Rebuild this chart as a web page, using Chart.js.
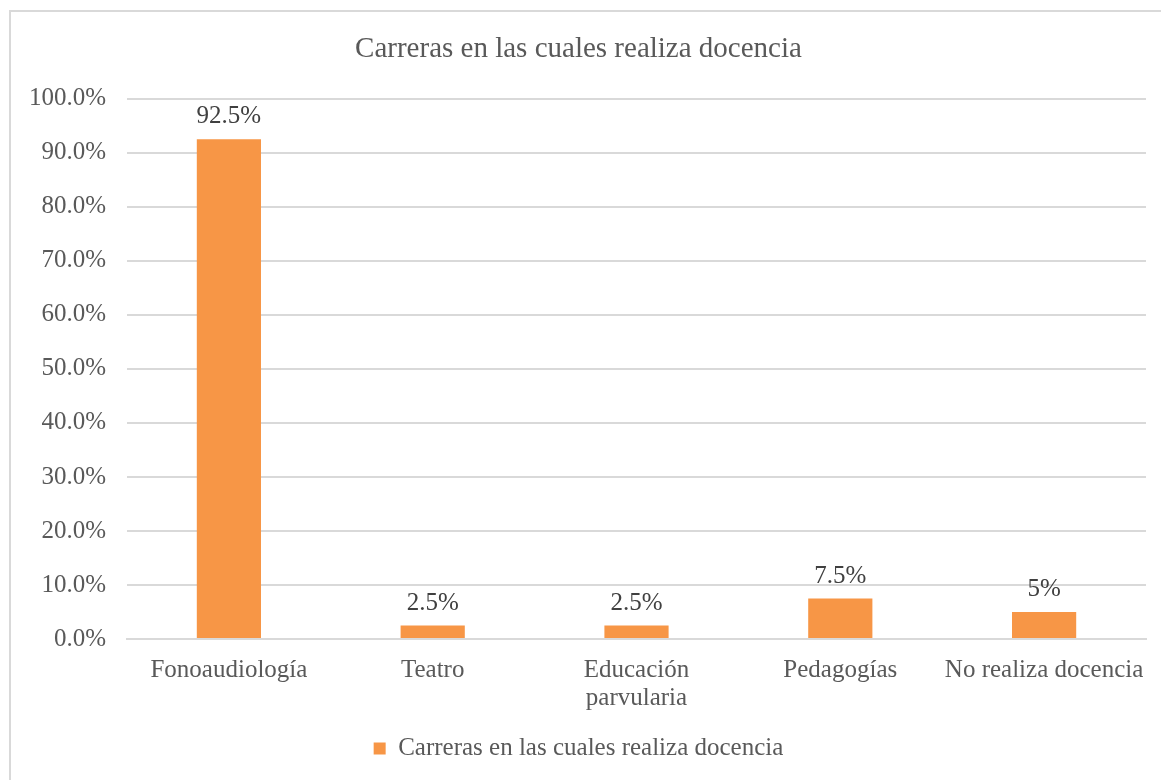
<!DOCTYPE html>
<html>
<head>
<meta charset="utf-8">
<script src="https://cdn.jsdelivr.net/npm/chart.js@4.4.1/dist/chart.umd.min.js"></script>
<style>
  html, body { margin: 0; padding: 0; background: #fff; overflow: hidden; }
  #frame {
    position: absolute; left: 9px; top: 10px;
    width: 1200px; height: 780px;
    border: 2px solid #d9d9d9; box-sizing: border-box;
  }
  #docenciaChart { position: absolute; left: 0; top: 0; }
</style>
</head>
<body>
<div id="frame"><canvas id="docenciaChart" width="1184" height="768"></canvas></div>
<script>
// datos
const categorias = ['Fonoaudiología', 'Teatro', ['Educación', 'parvularia'], 'Pedagogías', 'No realiza docencia'];
const porcentajes = [92.5, 2.5, 2.5, 7.5, 5];
const etiquetas = ['92.5%', '2.5%', '2.5%', '7.5%', '5%'];
const serieNombre = 'Carreras en las cuales realiza docencia';
const tituloTexto = 'Carreras en las cuales realiza docencia';

const FONT = '"Liberation Serif", "Times New Roman", serif';

// etiquetas encima de cada barra
const valueLabels = {
    id: 'valueLabels',
    afterDatasetsDraw(chart) {
        const { ctx } = chart;
        const meta = chart.getDatasetMeta(0);
        ctx.save();
        ctx.font = '25px ' + FONT;
        ctx.fillStyle = '#404040';
        ctx.textAlign = 'center';
        ctx.textBaseline = 'bottom';
        meta.data.forEach((bar, i) => {
            ctx.fillText(etiquetas[i], bar.x, bar.y - 10);
        });
        ctx.restore();
    }
};

new Chart(document.getElementById('docenciaChart'), {
    type: 'bar',
    data: {
        labels: categorias,
        datasets: [{
            label: serieNombre,
            data: porcentajes,
            backgroundColor: '#f79646',
            borderWidth: 0,
            barPercentage: 0.63,
            categoryPercentage: 0.5
        }]
    },
    options: {
        responsive: false,
        animation: false,
        layout: { padding: { left: 0, right: 49, top: 0, bottom: 9 } },
        scales: {
            x: {
                grid: { display: false },
                border: { color: '#d9d9d9', width: 2 },
                ticks: { color: '#595959', font: { family: FONT, size: 25, lineHeight: 1.1 }, padding: 10, maxRotation: 0 }
            },
            y: {
                min: 0, max: 100,
                afterFit(scale) { scale.width = 116; },
                grid: { color: '#d9d9d9', lineWidth: 2, drawTicks: false },
                border: { display: false },
                ticks: {
                    stepSize: 10,
                    color: '#595959',
                    font: { family: FONT, size: 25 },
                    padding: 21,
                    callback: v => v.toFixed(1) + '%'
                }
            }
        },
        plugins: {
            title: {
                display: true,
                text: tituloTexto,
                color: '#595959',
                font: { family: FONT, size: 29, weight: 'normal' },
                padding: { top: 20, bottom: 32 }
            },
            legend: {
                position: 'bottom',
                labels: {
                    color: '#595959',
                    font: { family: FONT, size: 25 },
                    boxWidth: 12, boxHeight: 12,
                    padding: 14
                }
            },
            tooltip: { enabled: false }
        }
    },
    plugins: [valueLabels]
});
</script>
</body>
</html>
